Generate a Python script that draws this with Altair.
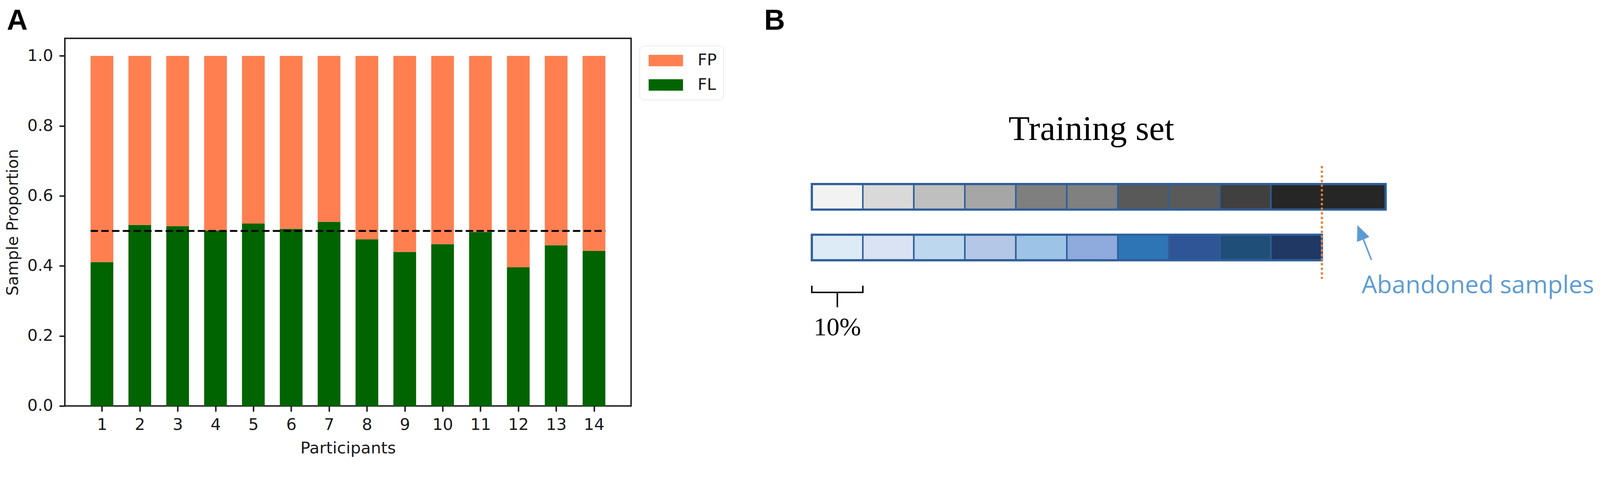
import altair as alt
import pandas as pd

# ---------------- Panel A data ----------------
participants = list(range(1, 15))
fl_share = [0.411, 0.517, 0.513, 0.501, 0.521, 0.506, 0.526,
            0.476, 0.440, 0.462, 0.497, 0.396, 0.459, 0.443]
series_names = ["FP", "FL"]
series_colors = ["#FF7F50", "#006400"]
y_ticks = [0.0, 0.2, 0.4, 0.6, 0.8, 1.0]
reference_level = 0.5

# ---------------- Panel B data ----------------
gray_cells = ["#F2F2F2", "#D9D9D9", "#BFBFBF", "#A6A6A6", "#7F7F7F",
              "#808080", "#595959", "#5A5A5A", "#404040", "#262626"]
blue_cells = ["#DDEBF7", "#DAE3F3", "#BDD7EE", "#B4C7E7", "#9DC3E6",
              "#8FAADC", "#2E75B6", "#2F5597", "#1F4E79", "#203864"]
segment_pct = 10
full_set_pct = 112.5
kept_pct = 100

BAR_W = 0.6
HALF_H = 0.252
BORDER = "#2F5F98"
TXT = "#1a1a1a"

# ---------------- Panel A ----------------
rows = []
for p, f in zip(participants, fl_share):
    rows.append({"p": p, "lo": p - BAR_W / 2, "hi": p + BAR_W / 2, "series": "FL", "y0": 0.0, "y1": f})
    rows.append({"p": p, "lo": p - BAR_W / 2, "hi": p + BAR_W / 2, "series": "FP", "y0": f, "y1": 1.0})
dfA = pd.DataFrame(rows)

xA = alt.Scale(domain=[0.02, 14.98], nice=False, zero=False)
yA = alt.Scale(domain=[0, 1.05], nice=False, zero=False)

bars = alt.Chart(dfA).mark_bar(cornerRadius=0).encode(
    x=alt.X("lo:Q", scale=xA, axis=alt.Axis(
        values=participants, format="d", title="Participants", grid=False, domain=False,
        tickColor=TXT, tickWidth=4, tickSize=15, labelPadding=14,
        labelFont="DejaVu Sans", labelFontSize=44, labelColor=TXT,
        titleFont="DejaVu Sans", titleFontSize=44, titleFontWeight="normal", titleColor=TXT,
        titleY=128, titleBaseline="alphabetic", labelOverlap=False)),
    x2="hi:Q",
    y=alt.Y("y0:Q", scale=yA, axis=alt.Axis(
        values=y_ticks, format=".1f", title="Sample Proportion", grid=False, domain=False,
        tickColor=TXT, tickWidth=4, tickSize=15, labelPadding=17,
        labelFont="DejaVu Sans", labelFontSize=44, labelColor=TXT,
        titleFont="DejaVu Sans", titleFontSize=43, titleFontWeight="normal", titleColor=TXT,
        titleX=-127, titleBaseline="alphabetic", labelOverlap=False)),
    y2="y1:Q",
    color=alt.Color("series:N", scale=alt.Scale(domain=series_names, range=series_colors),
                    legend=alt.Legend(
                        title=None, orient="none", legendX=1555, legendY=20,
                        symbolType="M-1,-1H5V1H-1Z", symbolSize=961, symbolStrokeWidth=0,
                        symbolOffset=0, labelOffset=95,
                        labelFont="DejaVu Sans", labelFontSize=44, labelColor=TXT,
                        padding=18, rowPadding=22, strokeColor="#d4d4d4",
                        cornerRadius=10, fillColor="white")),
)

ref = alt.Chart(pd.DataFrame([{"a": participants[0] - BAR_W / 2, "b": participants[-1] + BAR_W / 2,
                               "y": reference_level}])).mark_rule(
    color="black", strokeWidth=5, strokeDash=[20, 9]).encode(
    x=alt.X("a:Q", scale=xA), x2="b:Q", y=alt.Y("y:Q", scale=yA))

label_A = alt.Chart(pd.DataFrame([{"x": -1.512, "y": 1.0743, "t": "A"}])).mark_text(
    font="Liberation Sans", fontSize=78, fontWeight="bold", color="black",
    align="left", baseline="alphabetic").encode(
    x=alt.X("x:Q", scale=xA), y=alt.Y("y:Q", scale=yA), text="t:N")

panelA = alt.layer(bars, ref, label_A).properties(
    width=1532, height=994,
    view=alt.ViewBackground(stroke="#1f1f1f", strokeWidth=4))

# ---------------- Panel B ----------------
xB = alt.Scale(domain=[0, 150], nice=False, zero=False)
yB = alt.Scale(domain=[-3.128, 4.128], nice=False, zero=False, reverse=True)

cells = []
for i, c in enumerate(gray_cells):
    s = i * segment_pct
    e = full_set_pct if i == len(gray_cells) - 1 else (i + 1) * segment_pct
    cells.append({"row": 0, "s": s, "e": e, "color": c})
for i, c in enumerate(blue_cells):
    cells.append({"row": 1, "s": i * segment_pct, "e": (i + 1) * segment_pct, "color": c})
dfB = pd.DataFrame(cells)
dfB["t"] = dfB["row"] - HALF_H
dfB["b"] = dfB["row"] + HALF_H

outline = pd.DataFrame([{"s": 0, "e": full_set_pct, "row": 0}, {"s": 0, "e": kept_pct, "row": 1}])
outline["t"] = outline["row"] - HALF_H
outline["b"] = outline["row"] + HALF_H


def bx(f):
    return alt.X(f"{f}:Q", scale=xB, axis=None)


def by(f):
    return alt.Y(f"{f}:Q", scale=yB, axis=None)


cell_layer = alt.Chart(dfB).mark_rect(stroke=BORDER, strokeWidth=4).encode(
    x=bx("s"), x2="e:Q", y=by("t"), y2="b:Q", fill=alt.Fill("color:N", scale=None))
outline_layer = alt.Chart(outline).mark_rect(fill="transparent", stroke=BORDER, strokeWidth=6).encode(
    x=bx("s"), x2="e:Q", y=by("t"), y2="b:Q")

cut_line = alt.Chart(pd.DataFrame([{"x": kept_pct, "y": -0.59, "y2": 1.60}])).mark_rule(
    color="#ED7D31", strokeWidth=6, strokeDash=[1, 11.5], strokeCap="round").encode(
    x=bx("x"), y=by("y"), y2="y2:Q")

title_txt = alt.Chart(pd.DataFrame([{"x": 54.8, "y": -1.12, "t": "Training set"}])).mark_text(
    font="Liberation Serif", fontSize=94, color="black", align="center", baseline="alphabetic").encode(
    x=bx("x"), y=by("y"), text="t:N")

bracket = alt.Chart(pd.DataFrame([
    {"x": 0, "y": 1.755, "o": 0}, {"x": 0, "y": 1.887, "o": 1},
    {"x": segment_pct, "y": 1.887, "o": 2}, {"x": segment_pct, "y": 1.755, "o": 3}])).mark_line(
    color="black", strokeWidth=4).encode(x=bx("x"), y=by("y"), order="o:Q")
stem = alt.Chart(pd.DataFrame([{"x": segment_pct / 2, "y": 1.887, "y2": 2.179}])).mark_rule(
    color="black", strokeWidth=4).encode(x=bx("x"), y=by("y"), y2="y2:Q")
pct_txt = alt.Chart(pd.DataFrame([{"x": segment_pct / 2, "y": 2.734, "t": "10%"}])).mark_text(
    font="Liberation Serif", fontSize=70, color="black", align="center", baseline="alphabetic").encode(
    x=bx("x"), y=by("y"), text="t:N")

ARROW = "#5B9BD5"
shaft = alt.Chart(pd.DataFrame([{"x": 109.7, "y": 1.245, "o": 0}, {"x": 107.6, "y": 0.70, "o": 1}])).mark_line(
    color=ARROW, strokeWidth=4).encode(x=bx("x"), y=by("y"), order="o:Q")
head = alt.Chart(pd.DataFrame([{"x": 106.96, "y": 0.558}])).mark_point(
    shape="M0,0L-0.857,2L0.857,2Z", size=1764, filled=True, fill=ARROW, color=ARROW,
    strokeWidth=0, opacity=1, angle=338).encode(x=bx("x"), y=by("y"))
ab_txt = alt.Chart(pd.DataFrame([{"x": 107.8, "y": 1.90, "t": "Abandoned samples"}])).mark_text(
    font="Open Sans", fontSize=66, color=ARROW, align="left", baseline="alphabetic").encode(
    x=bx("x"), y=by("y"), text="t:N")

label_B = alt.Chart(pd.DataFrame([{"x": -9.35, "y": -3.296, "t": "B"}])).mark_text(
    font="Liberation Sans", fontSize=78, fontWeight="bold", color="black",
    align="left", baseline="alphabetic").encode(x=bx("x"), y=by("y"), text="t:N")

panelB = alt.layer(cell_layer, outline_layer, cut_line, title_txt, bracket, stem, pct_txt,
                   shaft, head, ab_txt, label_B).properties(
    width=2070, height=994,
    view=alt.ViewBackground(stroke="transparent", strokeWidth=0))

chart = alt.hconcat(panelA, panelB, spacing=489).properties(
    bounds="flush",
    autosize=alt.AutoSizeParams(type="none"),
    padding={"left": 167, "top": 32, "right": 4145, "bottom": 1198}
).configure_view(strokeWidth=0).configure(background="white")

chart.save("out.html", embed_options={"renderer": "svg", "actions": False})
